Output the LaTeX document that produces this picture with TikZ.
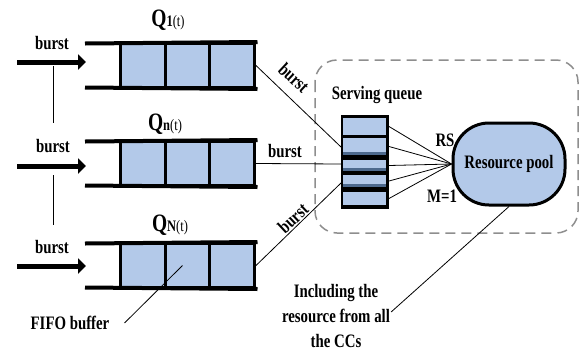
\documentclass[tikz,border=0pt]{standalone}
\usepackage{fontspec}
\setmainfont{Liberation Serif}[FakeStretch=0.78]
\usetikzlibrary{arrows.meta}
\definecolor{cellblue}{HTML}{B3C9E9}
\definecolor{darkband}{HTML}{4E6A8E}
\definecolor{dashgray}{HTML}{8E8E8E}
\begin{document}
\begin{tikzpicture}[x=1pt,y=-1pt,
  lbl/.style={font=\fontsize{19}{25}\selectfont\bfseries, inner sep=0pt},
  qlbl/.style={inner sep=0pt},
  cell/.style={draw=black, line width=3pt, fill=cellblue, minimum width=45pt, minimum height=44pt, inner sep=0pt},
  rail/.style={line width=4pt},
  inarrow/.style={line width=5pt, -{Triangle[length=8pt,width=15pt]}},
  thin/.style={line width=0.8pt},
  scell/.style={fill=cellblue, minimum width=43pt, inner sep=0pt, outer sep=0pt},
  band/.style={fill=darkband, minimum width=43pt, minimum height=3pt, inner sep=0pt}
]
\useasboundingbox (0,0) rectangle (581,354);

% dashed region
\draw[dashgray, line width=1.5pt, dash pattern=on 10pt off 6pt, rounded corners=22pt] (315,60) rectangle (578,233);

% ---- FIFO queues ----
\foreach \n/\c in {1/65.5, n/163.5, N/265.5}{
  \node[cell] (q\n a) at (142.5,\c) {};
  \node[cell] (q\n b) at (187.5,\c) {};
  \node[cell] (q\n c) at (232,\c) {};
  \draw[rail] (85,\c-22) -- ([xshift=1.5pt]q\n c.north east);
  \draw[rail] (85,\c+22) -- ([xshift=1.5pt]q\n c.south east);
}

% queue labels
\node[qlbl] (l1) at (168,20) {{\fontsize{25}{25}\selectfont\bfseries Q}{\fontsize{16}{16}\selectfont\bfseries 1\mdseries(t)}};
\node[qlbl] (ln) at (165,124) {{\fontsize{25}{25}\selectfont\bfseries Q}{\fontsize{16}{16}\selectfont\bfseries n\mdseries(t)}};
\node[qlbl] (lN) at (170,225) {{\fontsize{25}{25}\selectfont\bfseries Q}{\fontsize{16}{16}\selectfont\bfseries N\mdseries(t)}};

% input arrows
\coordinate (a1s) at (17,62);  \coordinate (a1e) at (86,62);
\coordinate (a2s) at (17,166); \coordinate (a2e) at (86,166);
\coordinate (a3s) at (17,266); \coordinate (a3e) at (86,266);
\draw[inarrow] (a1s) -- (a1e);
\draw[inarrow] (a2s) -- (a2e);
\draw[inarrow] (a3s) -- (a3e);

\node[lbl] (b1) at (52,43) {burst};
\node[lbl] (b2) at (53,146) {burst};
\node[lbl] (b3) at (52,247) {burst};

\coordinate (v1t) at (53,66);  \coordinate (v1b) at (53,123);
\coordinate (v2t) at (53,175); \coordinate (v2b) at (53,225);
\draw[thin] (v1t) -- (v1b);
\draw[thin] (v2t) -- (v2b);

% FIFO buffer label
\node[lbl] (fifo) at (70,323) {FIFO buffer};
\draw[thin] ([xshift=15pt]fifo.east) -- ([xshift=-5pt]qNb.center);

% ---- serving queue ----
\fill[black] (341,115) rectangle (389,209);
\node[scell, minimum height=17pt] (s1) at (364.5,126.5) {};
\node[scell, minimum height=17pt] (s2) at (364.5,146.5) {};
\node[band] at (364.5,153.5) {};
\node[scell, minimum height=11pt] (s3) at (364.5,165.5) {};
\node[band] at (364.5,169.5) {};
\node[scell, minimum height=12pt] (s4) at (364.5,181) {};
\node[band] at (364.5,185.5) {};
\node[scell, minimum height=13pt] (s5) at (364.5,198.5) {};
\node[lbl] (sqlbl) at (377,95) {Serving queue};

\coordinate (in1) at (341,147);
\coordinate (in2) at (341,164);
\coordinate (in3) at (341,183);
\draw[thin] (q1c.east) -- (in1);
\draw[thin] (qnc.east) -- (in2);
\draw[thin] (qNc.east) -- (in3);
\node[lbl, rotate=-43] (bb1) at (294,78) {burst};
\node[lbl] (bb2) at (285,151) {burst};
\node[lbl, rotate=43] (bb3) at (293,218) {burst};

% ---- resource pool ----
\node[draw, line width=3pt, fill=cellblue, rounded corners=36pt, minimum width=112pt, minimum height=82pt, inner sep=0pt,
      font=\fontsize{19}{25}\selectfont\bfseries] (pool) at (509,164) {Resource pool};
\foreach \i in {1,...,5}{
  \draw[thin] (389,0 |- s\i.east) -- (pool.west);
}
\node[lbl] (rs) at (445,140) {RS};
\node[lbl] (m1) at (442,196) {M=1};

\node[lbl, align=center] (inc) at (336,316) {Including the\\resource from all\\the CCs};
\draw[thin] (pool.south) -- ([xshift=1pt,yshift=4pt]inc.east);
\end{tikzpicture}
\end{document}
